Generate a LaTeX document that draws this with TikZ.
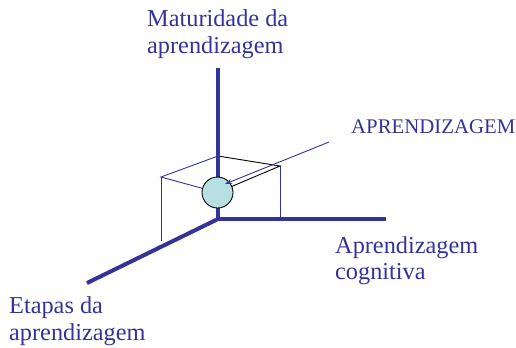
\documentclass[tikz,border=0pt]{standalone}
\usepackage{fontspec}
\setmainfont{Liberation Serif}
\usetikzlibrary{arrows.meta}
\definecolor{navy}{HTML}{333399}
\definecolor{ball}{HTML}{B8DFE2}
\begin{document}
\begin{tikzpicture}[x=1bp,y=-1bp,
  axis/.style={draw=navy,line width=4bp},
  thin/.style={draw=navy,line width=0.9bp},
  edge/.style={draw=black,line width=0.9bp},
  lbl/.style={text=navy,inner sep=0pt,anchor=base west,align=left,font=\fontsize{24.3bp}{26.5bp}\selectfont},
  small/.style={text=navy,inner sep=0pt,anchor=base west,font=\fontsize{20.8bp}{24bp}\selectfont}]
\useasboundingbox (0,0) rectangle (516,347);
% coordinates
\coordinate (O) at (218,219);
\coordinate (top) at (218,68);
\coordinate (right) at (386,219);
\coordinate (diag) at (87,283);
\coordinate (T) at (218,156);
\coordinate (R) at (280,166);
\coordinate (L) at (161,177);
\coordinate (Rb) at (280,219);
\coordinate (Lb) at (161,241);
\coordinate (C) at (217.5,192.5);
\coordinate (arrstart) at (329,142);
% box lines
\draw[thin] (T) -- (L) -- (C);
\draw[thin] (L) -- (Lb);
\draw[thin] (R) -- (Rb);
\draw[edge] (T) -- (R) -- (C);
% axes
\draw[axis] (top) -- (O) -- (right);
\draw[axis] (O) -- (diag);
% ball
\node[circle,draw=black,line width=0.9bp,fill=ball,minimum size=31bp,inner sep=0pt] (ballnode) at (C) {};
% arrow
\draw[thin,-{Stealth[length=7bp,width=5bp]}] (arrstart) -- (225,184);
% labels (base anchor = last line's baseline)
\node[lbl] (mat) at (147,53) {Maturidade da\\aprendizagem};
\node[small] (apr) at (351,133) {APRENDIZAGEM};
\node[lbl] (cog) at (335,279.5) {Aprendizagem\\cognitiva};
\node[lbl] (eta) at (9,340) {Etapas da\\aprendizagem};
\end{tikzpicture}
\end{document}
